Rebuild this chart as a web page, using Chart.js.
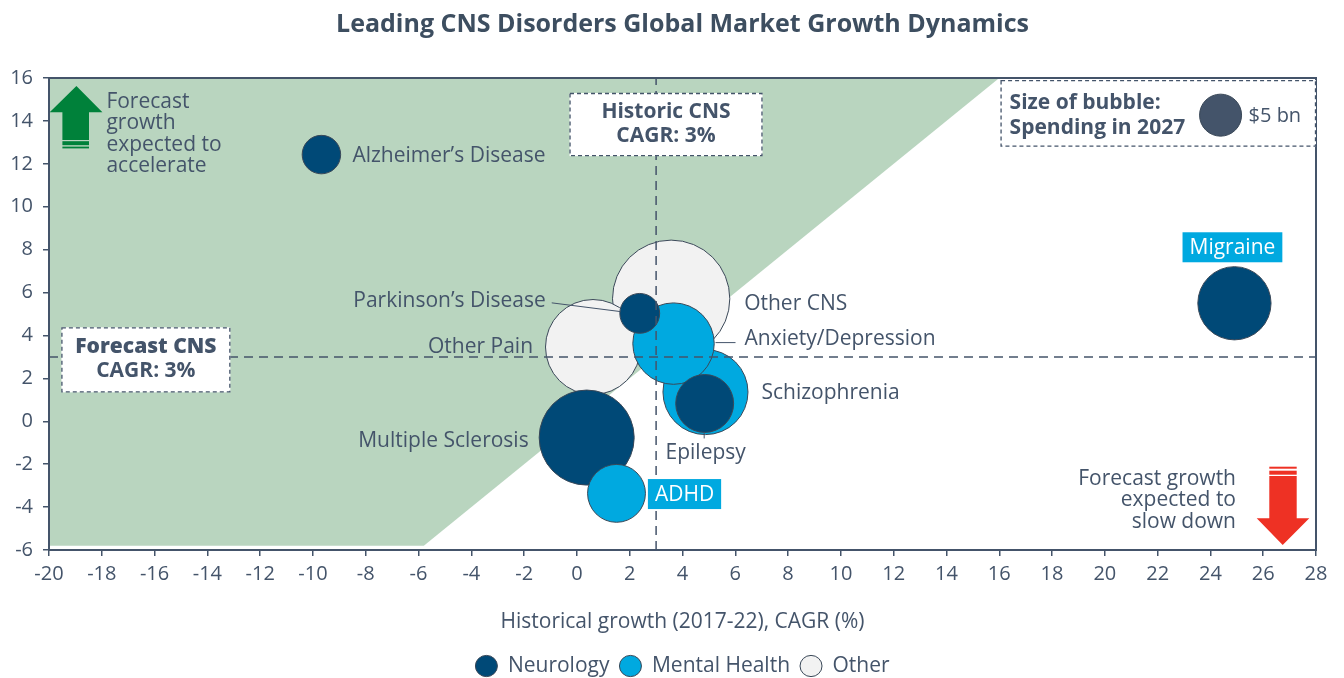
<!DOCTYPE html>
<html>
<head>
<meta charset="utf-8">
<title>Leading CNS Disorders Global Market Growth Dynamics</title>
<script src="https://cdn.jsdelivr.net/npm/chart.js@4.4.1/dist/chart.umd.min.js"></script>
<style>
  html, body { margin: 0; padding: 0; background: #fff; }
  #wrap { width: 1344px; height: 678px; }
</style>
</head>
<body>
<div id="wrap"><canvas id="myChart"></canvas></div>
<script>
// bubbles, listed in drawing order (later ones sit on top)
const disorders = ["Other CNS", "Other Pain", "Schizophrenia", "Anxiety/Depression", "Parkinson’s Disease",
  "Multiple Sclerosis", "ADHD", "Epilepsy", "Alzheimer’s Disease", "Migraine"];
const historicCagr = [3.57, 0.61, 4.87, 3.66, 2.38, 0.37, 1.5, 4.84, -9.68, 24.91];
const forecastCagr = [5.71, 3.46, 1.36, 3.62, 5.03, -0.76, -3.36, 0.83, 12.43, 5.5];
const spending2027 = [39, 25.6, 20.5, 18.8, 4.5, 25.6, 9.5, 9.5, 4.2, 15.2];
const groups = ["Other", "Other", "Mental Health", "Mental Health", "Neurology",
  "Neurology", "Mental Health", "Neurology", "Neurology", "Neurology"];

const groupNames = ["Neurology", "Mental Health", "Other"];
const groupColors = ["#004977", "#00a9e0", "#f2f2f2"];

const historicCnsCagr = 3;
const forecastCnsCagr = 3;
const keySpend = 5;
const keyRadius = 21;

const slate = "#44546a";
const outline = "#3a4858";

Chart.defaults.font.family = "'Open Sans', 'Noto Sans', sans-serif";
Chart.defaults.color = slate;

function radiusFor(spend) {
  return keyRadius * Math.sqrt(spend / keySpend);
}

const bubbleData = disorders.map((name, i) => ({
  x: historicCagr[i],
  y: forecastCagr[i],
  r: radiusFor(spending2027[i]),
}));

const historicLine = [{ x: historicCnsCagr, y: -6 }, { x: historicCnsCagr, y: 16 }];
const forecastLine = [{ x: -20, y: forecastCnsCagr }, { x: 28, y: forecastCnsCagr }];
// region where forecast growth beats historic growth
const accelZone = [{ x: -20, y: -5.8 }, { x: -5.8, y: -5.8 }, { x: 16, y: 16 }];

// label placement around each bubble (pixels from the bubble centre)
const labelSpots = {
  "Alzheimer’s Disease": { dx: 31, dy: 0, align: "left" },
  "Parkinson’s Disease": { dx: -94, dy: -13, align: "right", leader: [[-88, -10.5], [-19.5, -1.8]] },
  "Other CNS": { dx: 73, dy: 4, align: "left" },
  "Anxiety/Depression": { dx: 71, dy: -6, align: "left", leader: [[42, -1], [62, -1]] },
  "Other Pain": { dx: -60, dy: -1, align: "right" },
  "Schizophrenia": { dx: 56, dy: 0, align: "left" },
  "Epilepsy": { dx: 1, dy: 49, align: "center", leader: [[-0.5, 29], [-0.5, 35]] },
  "Multiple Sclerosis": { dx: -58, dy: 2.5, align: "right" },
  "ADHD": { dx: 68, dy: 0.7, align: "center", box: true },
  "Migraine": { dx: -2, dy: -56, align: "center", box: true },
};

const guideBoxes = [
  { lines: ["Historic CNS", "CAGR: 3%"], weights: ["bold", "bold"], xMin: -0.28, xMax: 7.03, yMin: 12.36, yMax: 15.3 },
  { lines: ["Forecast CNS", "CAGR: 3%"], weights: ["800", "bold"], xMin: -19.53, xMax: -13.13, yMin: 1.35, yMax: 4.38 },
];
const keyBox = { xMin: 16.05, xMax: 28, yMin: 12.8, yMax: 15.9 };

function dashedBox(c, x, y, w, h) {
  c.save();
  c.fillStyle = "#ffffff";
  c.fillRect(x, y, w, h);
  c.setLineDash([4, 3]);
  c.strokeStyle = slate;
  c.lineWidth = 1.3;
  c.strokeRect(x + 0.5, y + 0.5, w - 1, h - 1);
  c.restore();
}

function drawArrow(c, pts, color) {
  c.beginPath();
  pts.forEach((p, i) => (i ? c.lineTo(p[0], p[1]) : c.moveTo(p[0], p[1])));
  c.closePath();
  c.fillStyle = color;
  c.fill();
}

const annotations = {
  id: "annotations",
  afterDatasetsDraw(chart) {
    const c = chart.ctx;
    const area = chart.chartArea;
    const xs = chart.scales.x;
    const ys = chart.scales.y;

    // frame around the plot
    c.save();
    c.strokeStyle = slate;
    c.lineWidth = 2;
    c.strokeRect(area.left, area.top, area.right - area.left, area.bottom - area.top);
    c.restore();

    c.save();
    c.textBaseline = "middle";

    // bubble labels
    const meta = chart.getDatasetMeta(2);
    disorders.forEach((name, i) => {
      const el = meta.data[i];
      const spot = labelSpots[name];
      const cx = el.x;
      const cy = el.y;
      c.font = "21px 'Open Sans', sans-serif";
      if (spot.leader) {
        c.beginPath();
        c.moveTo(cx + spot.leader[0][0], cy + spot.leader[0][1]);
        c.lineTo(cx + spot.leader[1][0], cy + spot.leader[1][1]);
        c.strokeStyle = slate;
        c.lineWidth = 1;
        c.stroke();
      }
      const tx = cx + spot.dx;
      const ty = cy + spot.dy;
      if (spot.box) {
        const w = c.measureText(name).width + 14;
        c.fillStyle = groupColors[1];
        c.fillRect(tx - w / 2, ty - 15, w, 30);
        c.fillStyle = "#ffffff";
      } else {
        c.fillStyle = slate;
      }
      c.textAlign = spot.align;
      c.fillText(name, tx, ty + 1);
    });

    // benchmark boxes
    guideBoxes.forEach((b) => {
      const x0 = xs.getPixelForValue(b.xMin);
      const x1 = xs.getPixelForValue(b.xMax);
      const y0 = ys.getPixelForValue(b.yMax);
      const y1 = ys.getPixelForValue(b.yMin);
      dashedBox(c, x0, y0, x1 - x0, y1 - y0);
      const mx = (x0 + x1) / 2;
      const my = (y0 + y1) / 2;
      c.fillStyle = slate;
      c.textAlign = "center";
      b.lines.forEach((line, k) => {
        c.font = b.weights[k] + " 21px 'Open Sans', sans-serif";
        c.fillText(line, mx, my - 13 + k * 24);
      });
    });

    // bubble size key
    const kx0 = xs.getPixelForValue(keyBox.xMin);
    const kx1 = xs.getPixelForValue(keyBox.xMax);
    const ky0 = ys.getPixelForValue(keyBox.yMax);
    const ky1 = ys.getPixelForValue(keyBox.yMin);
    dashedBox(c, kx0, ky0, kx1 - kx0, ky1 - ky0);
    c.fillStyle = slate;
    c.textAlign = "left";
    c.font = "bold 21px 'Open Sans', sans-serif";
    c.fillText("Size of bubble:", kx0 + 9, ky0 + 23);
    c.fillText("Spending in 2027", kx0 + 9, ky0 + 48);
    c.beginPath();
    c.arc(kx0 + 220, ky0 + 35, radiusFor(keySpend), 0, Math.PI * 2);
    c.fillStyle = slate;
    c.fill();
    c.strokeStyle = outline;
    c.lineWidth = 1;
    c.stroke();
    c.font = "20px 'Open Sans', sans-serif";
    c.fillText("$" + keySpend + " bn", kx0 + 248, ky0 + 36);

    // green arrow, top left
    const gx = area.left;
    const gy = area.top;
    const green = "#00813a";
    drawArrow(c, [[gx + 27.4, gy + 8], [gx + 53.4, gy + 34.3], [gx + 40, gy + 34.3], [gx + 40, gy + 62],
      [gx + 13.4, gy + 62], [gx + 13.4, gy + 34.3], [gx + 0.7, gy + 34.3]], green);
    c.fillStyle = green;
    c.fillRect(gx + 13.4, gy + 63.2, 26.6, 4);
    c.fillRect(gx + 13.4, gy + 68.6, 26.6, 1.8);
    c.fillStyle = slate;
    c.font = "21px 'Open Sans', sans-serif";
    ["Forecast", "growth", "expected to", "accelerate"].forEach((t, k) => {
      c.fillText(t, gx + 57.4, gy + 24 + k * 21.5);
    });

    // red arrow, bottom right
    const rx = area.right;
    const ry = area.bottom;
    const red = "#ee3124";
    drawArrow(c, [[rx - 33.3, ry - 5], [rx - 59.3, ry - 31.7], [rx - 46.7, ry - 31.7], [rx - 46.7, ry - 74],
      [rx - 19.3, ry - 74], [rx - 19.3, ry - 31.7], [rx - 6.7, ry - 31.7]], red);
    c.fillStyle = red;
    c.fillRect(rx - 46.7, ry - 79.3, 27.4, 4);
    c.fillRect(rx - 46.7, ry - 83.3, 27.4, 2);
    c.fillStyle = slate;
    c.textAlign = "right";
    ["Forecast growth", "expected to", "slow down"].forEach((t, k) => {
      c.fillText(t, rx - 80, ry - 71 + k * 21.5);
    });
    c.restore();
  },
};

const ctx = document.getElementById("myChart");
new Chart(ctx, {
  type: "bubble",
  data: {
    datasets: [
      {
        type: "line",
        label: "Historic CNS CAGR",
        data: historicLine,
        borderColor: slate,
        borderWidth: 1.5,
        borderDash: [9, 6],
        pointRadius: 0,
        fill: false,
        order: 0,
      },
      {
        type: "line",
        label: "Forecast CNS CAGR",
        data: forecastLine,
        borderColor: slate,
        borderWidth: 1.5,
        borderDash: [9, 6],
        pointRadius: 0,
        fill: false,
        order: 0,
      },
      {
        label: "Spending in 2027",
        data: bubbleData,
        backgroundColor: disorders.map((d, i) => groupColors[groupNames.indexOf(groups[i])]),
        borderColor: outline,
        borderWidth: 1,
        hoverBorderWidth: 1,
        order: 1,
      },
      {
        type: "line",
        label: "Acceleration zone",
        data: accelZone,
        borderColor: "rgba(0,0,0,0)",
        borderWidth: 0,
        pointRadius: 0,
        backgroundColor: "#b9d5bf",
        fill: "end",
        order: 2,
      },
    ],
  },
  options: {
    animation: false,
    responsive: true,
    maintainAspectRatio: false,
    events: [],
    layout: { autoPadding: false, padding: { left: 0, right: 28, top: 0, bottom: -8.5 } },
    scales: {
      x: {
        type: "linear",
        min: -20,
        max: 28,
        ticks: { stepSize: 2, font: { size: 20 }, color: slate, padding: 6 },
        grid: { display: true, drawOnChartArea: false, tickLength: 6, color: slate, lineWidth: 1.5 },
        border: { color: slate, width: 2 },
        title: {
          display: true,
          text: "Historical growth (2017-22), CAGR (%)",
          font: { size: 21 },
          color: slate,
          padding: { top: 16, bottom: 11 },
        },
        afterFit(scale) {
          scale.height = 95.5;
        },
      },
      y: {
        type: "linear",
        min: -6,
        max: 16,
        ticks: { stepSize: 2, font: { size: 20 }, color: slate, padding: 10 },
        grid: { display: true, drawOnChartArea: false, tickLength: 6, color: slate, lineWidth: 1.5 },
        border: { color: slate, width: 2 },
        afterFit(scale) {
          scale.width = 49;
        },
      },
    },
    plugins: {
      title: {
        display: true,
        fullSize: false,
        text: "Leading CNS Disorders Global Market Growth Dynamics",
        font: { size: 25, weight: "bold" },
        color: "#3d4e60",
        padding: { top: 10, bottom: 38 },
      },
      legend: {
        position: "bottom",
        fullSize: false,
        labels: {
          usePointStyle: true,
          boxHeight: 15,
          pointStyleWidth: 22,
          padding: 10,
          font: { size: 21 },
          color: slate,
          generateLabels: () =>
            groupNames.map((g, i) => ({
              text: g,
              fillStyle: groupColors[i],
              strokeStyle: outline,
              lineWidth: 1,
              pointStyle: "circle",
              hidden: false,
              datasetIndex: 2,
              fontColor: slate,
            })),
        },
      },
      tooltip: { enabled: false },
    },
  },
  plugins: [annotations],
});
</script>
</body>
</html>
